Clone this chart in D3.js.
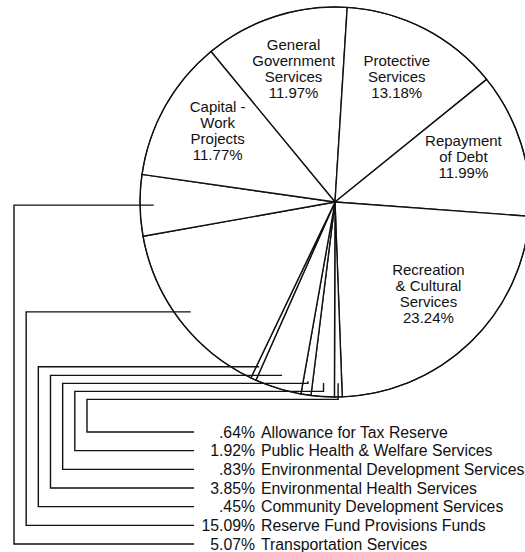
<!DOCTYPE html>
<html>
<head>
<meta charset="utf-8">
<script src="https://cdn.jsdelivr.net/npm/d3@7"></script>
<style>
  html, body { margin: 0; padding: 0; background: #fff; }
  svg { display: block; }
  text { font-family: "Liberation Sans", Arial, Helvetica, sans-serif; fill: #111; }
</style>
</head>
<body>
<svg id="chart"></svg>
<script>
// Slices, clockwise from the top
const categories = [
    "General Government Services",
    "Protective Services",
    "Repayment of Debt",
    "Recreation & Cultural Services",
    "Allowance for Tax Reserve",
    "Public Health & Welfare Services",
    "Environmental Development Services",
    "Environmental Health Services",
    "Community Development Services",
    "Reserve Fund Provisions Funds",
    "Transportation Services",
    "Capital - Work Projects"
];
const shares = [11.97, 13.18, 11.99, 23.24, 0.64, 1.92, 0.83, 3.85, 0.45, 15.09, 5.07, 11.77];

// Labels written inside the big slices
const insideLines = {
    "General Government Services": ["General", "Government", "Services"],
    "Protective Services": ["Protective", "Services"],
    "Repayment of Debt": ["Repayment", "of Debt"],
    "Recreation & Cultural Services": ["Recreation", "& Cultural", "Services"],
    "Capital - Work Projects": ["Capital -", "Work", "Projects"]
};

// Slices named in the list under the pie, top row first
const legendOrder = [
    "Allowance for Tax Reserve",
    "Public Health & Welfare Services",
    "Environmental Development Services",
    "Environmental Health Services",
    "Community Development Services",
    "Reserve Fund Provisions Funds",
    "Transportation Services"
];

const width = 525, height = 552;
const cx = 335, cy = 202, radius = 195;
const deg = Math.PI / 180;

const fmt = v => d3.format(".2f")(v).replace(/^0/, "") + "%";

const svg = d3.select("#chart")
    .attr("width", width)
    .attr("height", height)
    .attr("viewBox", [0, 0, width, height])
    .style("overflow", "hidden");

const data = categories.map((c, i) => ({name: c, value: shares[i]}));

const pie = d3.pie()
    .sort(null)
    .value(d => d.value)
    .startAngle(-39.5 * deg)
    .endAngle(320.5 * deg);
const arcs = pie(data);

const arc = d3.arc().innerRadius(0).outerRadius(radius);

const g = svg.append("g").attr("transform", `translate(${cx},${cy})`);

// Slices
g.selectAll("path.slice")
    .data(arcs)
    .join("path")
    .attr("class", "slice")
    .attr("d", arc)
    .attr("fill", "#fff")
    .attr("stroke", "#111")
    .attr("stroke-width", 1.4)
    .attr("stroke-linejoin", "round");

// Rim drawn a bit thinner on top
g.append("circle")
    .attr("r", radius)
    .attr("fill", "none")
    .attr("stroke", "#111")
    .attr("stroke-width", 1.1);

// Inside labels
const labelArc = d3.arc().innerRadius(radius * 0.69).outerRadius(radius * 0.69);
const lineH = 16;
arcs.filter(a => insideLines[a.data.name]).forEach(a => {
    const lines = insideLines[a.data.name].concat([fmt(a.data.value)]);
    const [x, y] = labelArc.centroid(a);
    const t = g.append("text")
        .attr("text-anchor", "middle")
        .attr("font-size", 15)
        .attr("x", x)
        .attr("y", y - (lines.length - 1) * lineH / 2)
        .attr("dy", "0.35em");
    t.selectAll("tspan")
        .data(lines)
        .join("tspan")
        .attr("x", x)
        .attr("dy", (d, i) => i === 0 ? 0 : lineH)
        .text(d => d);
});

// List under the pie with leader lines
const rowY = d3.scalePoint().domain(legendOrder).range([432, 544]);
const barX = d3.scalePoint().domain(legendOrder).range([87, 14]);
const lineEnd = 194, pctRight = 255, nameLeft = 261;

const anchorArc = d3.arc().innerRadius(radius * 0.93).outerRadius(radius * 0.93);
const byName = new Map(arcs.map(a => [a.data.name, a]));

// work from the outermost leader inwards so the horizontal runs never overlap
let level = -Infinity;
const leaders = legendOrder.slice().reverse().map(name => {
    const [ax, ay] = anchorArc.centroid(byName.get(name));
    const px = cx + ax, py = cy + ay;
    level = Math.max(py, level + 8);
    return {name, px, py, level};
});

const line = d3.line();
svg.append("g")
    .selectAll("path")
    .data(leaders)
    .join("path")
    .attr("fill", "none")
    .attr("stroke", "#111")
    .attr("stroke-width", 1.4)
    .attr("d", d => line([
        [d.px, d.py],
        [d.px, d.level],
        [barX(d.name), d.level],
        [barX(d.name), rowY(d.name)],
        [lineEnd, rowY(d.name)]
    ]));

const rows = svg.append("g")
    .attr("font-size", 15.8)
    .selectAll("g")
    .data(legendOrder)
    .join("g")
    .attr("transform", d => `translate(0,${rowY(d)})`);

rows.append("text")
    .attr("x", pctRight)
    .attr("dy", "0.35em")
    .attr("text-anchor", "end")
    .text(d => fmt(byName.get(d).data.value));

rows.append("text")
    .attr("x", nameLeft)
    .attr("dy", "0.35em")
    .text(d => d);
</script>
</body>
</html>
